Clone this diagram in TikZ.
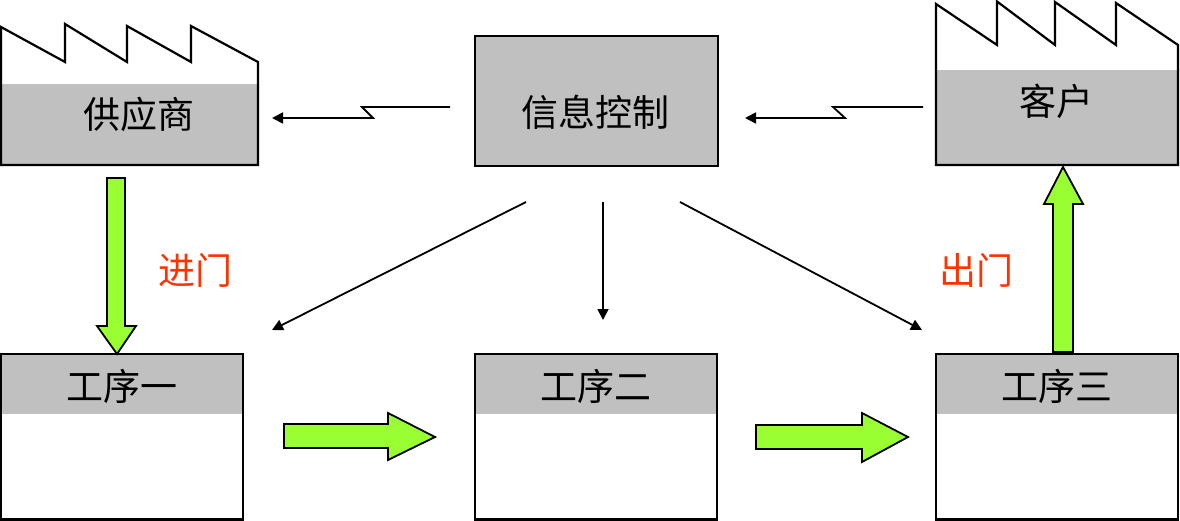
\documentclass[tikz,border=0pt]{standalone}
\usepackage{fontspec}
\setmainfont{Noto Sans CJK SC}
\usepackage{xcolor}
\usepackage{tikz}
\usetikzlibrary{calc,arrows.meta}
\definecolor{boxgray}{HTML}{C0C0C0}
\definecolor{flow}{HTML}{99FF33}
\definecolor{gate}{HTML}{FF3300}
\tikzset{
  base/.style={draw=black, line width=2.2pt, line join=miter},
  band/.style={fill=boxgray},
  sig/.style={draw=black, line width=1.8pt, -{Triangle[length=11pt,width=11pt]}},
  flowarr/.style={draw=black, fill=flow, line width=1.8pt, line join=miter},
  lab/.style={text=black, font=\fontsize{37}{40}\selectfont, inner sep=0pt},
  labr/.style={text=gate, font=\fontsize{37}{40}\selectfont, inner sep=0pt},
}
\begin{document}
\begin{tikzpicture}[x=1pt,y=-1pt]
  \useasboundingbox (0,0) rectangle (1180,521);

  % factories
  \fill[band] (1,84) rectangle (258,165);
  \draw[base] (1,165) -- (1,27) -- (65,62) -- (65,24) -- (127,62) -- (127,26)
    -- (191,62) -- (191,26) -- (258,62) -- (258,165) -- cycle;
  \node[lab] (sup) at (139,114) {供应商};

  \fill[band] (936,70) rectangle (1178,165);
  \draw[base] (936,165) -- (936,4) -- (997,45) -- (997,1.5) -- (1055,45) -- (1055,2)
    -- (1116,45) -- (1116,3) -- (1178,45) -- (1178,165) -- cycle;
  \node[lab] (cust) at (1056,101) {客户};

  % info box
  \draw[base, band] (475,36) rectangle (718,166);
  \node[lab] (info) at (595.5,112) {信息控制};

  % process boxes
  \foreach \x/\n/\t in {1.2/p1/工序一, 475/p2/工序二, 936/p3/工序三}{
    \fill[band] (\x,354) rectangle ++(242,60);
    \draw[base] (\x,354) rectangle ++(242,165.5);
    \node[lab] (\n) at ($(\x,386)+(121,0)$) {\t};
  }

  % signal lines
  \coordinate (s1) at (450,107);
  \coordinate (s1e) at (272,118);
  \coordinate (s2) at (923,107);
  \coordinate (s2e) at (745,118);
  \draw[sig] (s1) -- (362,107) -- (373,118) -- (s1e);
  \draw[sig] (s2) -- (833,107) -- (845,118) -- (s2e);

  \coordinate (i1) at (526,202);
  \coordinate (i2) at (603,202);
  \coordinate (i3) at (680,202);
  \coordinate (t1) at (272,330);
  \coordinate (t2) at (603,320);
  \coordinate (t3) at (922,330);
  \draw[sig] (i1) -- (t1);
  \draw[sig] (i2) -- (t2);
  \draw[sig] (i3) -- (t3);

  % material flow
  \draw[flowarr] (107,178) -- (125,178) -- (125,326) -- (136,326) -- (117,354)
    -- (97,326) -- (107,326) -- cycle;
  \draw[flowarr] (284,424) -- (388,424) -- (388,413) -- (435,437) -- (388,460)
    -- (388,448) -- (284,448) -- cycle;
  \draw[flowarr] (756,425) -- (862,425) -- (862,413) -- (908,437) -- (862,462)
    -- (862,449) -- (756,449) -- cycle;
  \draw[flowarr] (1053,352) -- (1053,204) -- (1044,204) -- (1063,167) -- (1083,204)
    -- (1073,204) -- (1073,352) -- cycle;

  \node[labr] (gin) at (195,270) {进门};
  \node[labr] (gout) at (976,270) {出门};
\end{tikzpicture}
\end{document}
